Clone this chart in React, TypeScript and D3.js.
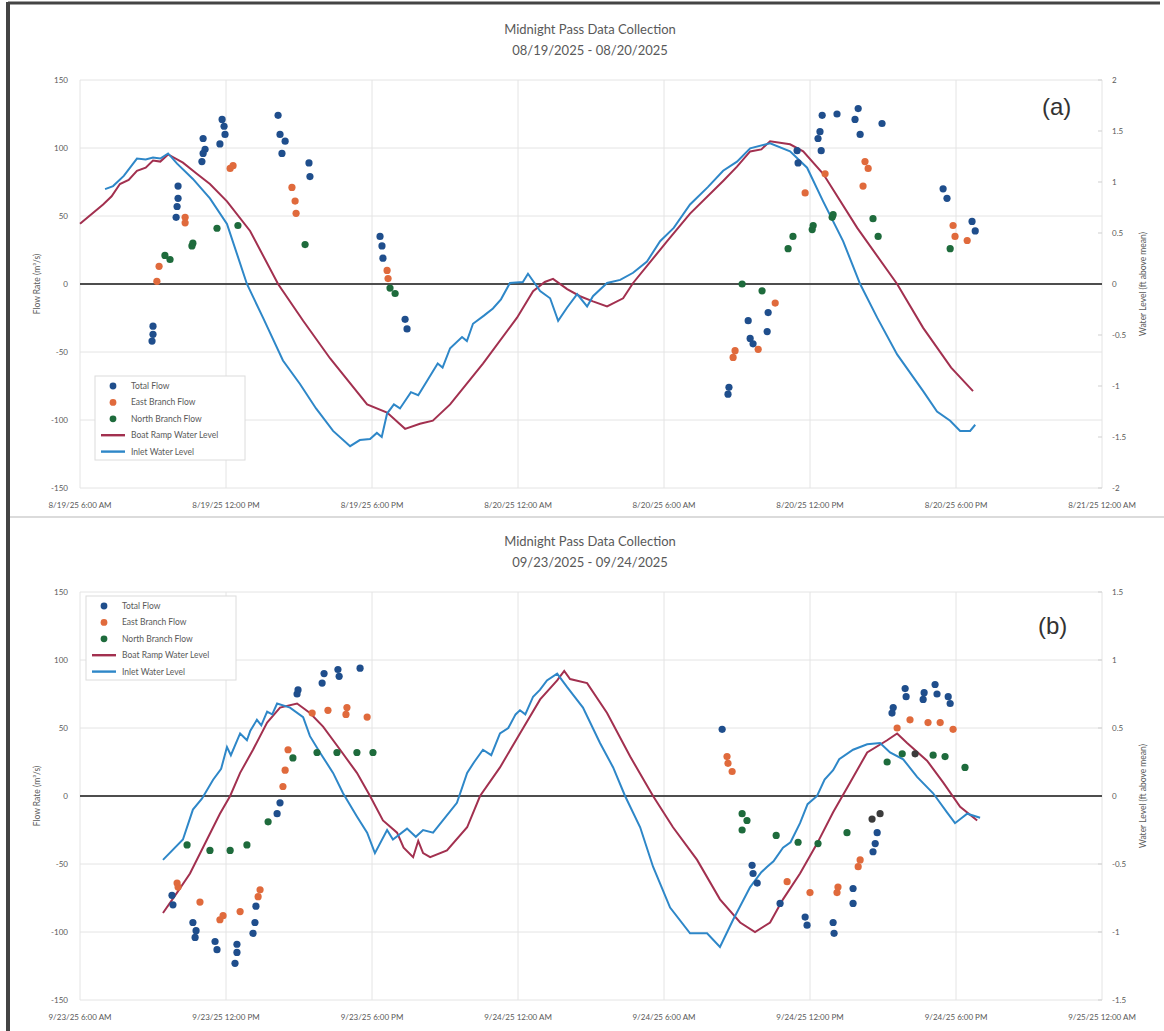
import * as d3 from "d3";

// hours since midnight of the first day of each panel
const tickHours = [6, 12, 18, 24, 30, 36, 42, 48];
const xLabelsA = ["8/19/25 6:00 AM", "8/19/25 12:00 PM", "8/19/25 6:00 PM", "8/20/25 12:00 AM", "8/20/25 6:00 AM", "8/20/25 12:00 PM", "8/20/25 6:00 PM", "8/21/25 12:00 AM"];
const xLabelsB = ["9/23/25 6:00 AM", "9/23/25 12:00 PM", "9/23/25 6:00 PM", "9/24/25 12:00 AM", "9/24/25 6:00 AM", "9/24/25 12:00 PM", "9/24/25 6:00 PM", "9/25/25 12:00 AM"];
const flowTicks = [-150, -100, -50, 0, 50, 100, 150];
const levelTicksA = [-2, -1.5, -1, -0.5, 0, 0.5, 1, 1.5, 2];
const levelTicksB = [-1.5, -1, -0.5, 0, 0.5, 1, 1.5];

// panel (a) — water level in ft, flow in m3/s
const rampA = [[6.0, 0.59], [6.95, 0.78], [7.3, 0.86], [7.64, 0.98], [8.0, 1.02], [8.34, 1.11], [8.7, 1.14], [9.0, 1.21], [9.3, 1.2], [9.62, 1.27], [10.23, 1.19], [10.8, 1.08], [11.34, 0.98], [12.04, 0.81], [12.99, 0.52], [14.14, 0], [15.17, -0.36], [16.28, -0.73], [17.8, -1.18], [18.62, -1.26], [19.36, -1.42], [19.97, -1.37], [20.5, -1.34], [21.21, -1.18], [22.56, -0.78], [23.96, -0.33], [24.62, -0.07], [25.1, 0.02], [25.44, 0.05], [26.02, -0.05], [26.55, -0.12], [27.08, -0.17], [27.66, -0.22], [28.32, -0.14], [28.73, 0.01], [30.13, 0.42], [31.07, 0.69], [32.43, 1.01], [33.0, 1.15], [33.54, 1.3], [34.0, 1.32], [34.36, 1.4], [35.18, 1.37], [35.72, 1.3], [36.54, 1.08], [37.94, 0.55], [39.58, 0], [40.65, -0.43], [41.8, -0.82], [42.7, -1.05]];
const inletA = [[7.03, 0.93], [7.36, 0.96], [7.8, 1.06], [8.34, 1.23], [8.7, 1.22], [9.0, 1.24], [9.3, 1.23], [9.62, 1.28], [9.99, 1.18], [10.64, 1.03], [11.34, 0.84], [12.04, 0.59], [12.86, 0], [13.52, -0.33], [14.34, -0.75], [15.04, -0.98], [15.7, -1.22], [16.4, -1.44], [17.1, -1.59], [17.5, -1.53], [17.92, -1.52], [18.2, -1.46], [18.4, -1.5], [18.62, -1.27], [18.9, -1.18], [19.15, -1.22], [19.6, -1.06], [19.9, -1.09], [20.26, -0.95], [20.7, -0.78], [20.9, -0.82], [21.21, -0.63], [21.7, -0.52], [21.9, -0.56], [22.15, -0.39], [22.6, -0.31], [22.97, -0.24], [23.3, -0.15], [23.67, 0.01], [24.2, 0.02], [24.41, 0.1], [24.91, -0.07], [25.32, -0.14], [25.65, -0.36], [26.02, -0.23], [26.43, -0.1], [26.84, -0.22], [27.08, -0.12], [27.66, 0.01], [28.2, 0.04], [28.73, 0.11], [29.3, 0.22], [29.84, 0.42], [30.4, 0.55], [31.07, 0.78], [31.8, 0.95], [32.43, 1.11], [33.0, 1.2], [33.54, 1.33], [34.36, 1.38], [35.18, 1.3], [35.88, 1.14], [36.54, 0.81], [37.36, 0.42], [38.06, 0], [38.76, -0.33], [39.58, -0.69], [40.65, -1.05], [41.22, -1.25], [41.76, -1.34], [42.17, -1.44], [42.58, -1.44], [42.79, -1.38]];
const totalA = [[9.0, -31], [9.0, -37], [8.96, -42], [10.03, 72], [10.03, 63], [9.99, 57], [9.95, 49], [11.06, 107], [11.14, 99], [11.06, 96], [11.01, 90], [11.84, 121], [11.92, 116], [11.96, 110], [11.75, 103], [14.14, 124], [14.22, 110], [14.43, 105], [14.3, 96], [15.41, 89], [15.45, 79], [18.33, 35], [18.41, 28], [18.45, 19], [19.36, -26], [19.44, -33], [32.63, -81], [32.67, -76], [33.46, -27], [33.54, -40], [33.66, -44], [34.24, -35], [34.28, -21], [35.47, 98], [35.51, 89], [36.33, 107], [36.41, 112], [36.5, 124], [36.46, 98], [37.11, 125], [37.85, 121], [37.98, 129], [38.06, 110], [38.96, 118], [41.47, 70], [41.63, 63], [42.66, 46], [42.79, 39]];
const eastA = [[9.16, 2], [9.25, 13], [10.32, 49], [10.32, 45], [12.17, 85], [12.29, 87], [14.71, 71], [14.84, 61], [14.88, 52], [18.62, 10], [18.66, 4], [32.92, -49], [32.84, -54], [33.87, -48], [34.57, -14], [35.8, 67], [36.62, 81], [38.26, 90], [38.39, 85], [38.18, 72], [41.88, 43], [41.96, 35], [42.46, 32]];
const northA = [[9.49, 21], [9.7, 18], [10.6, 28], [10.64, 30], [11.63, 41], [12.49, 43], [15.25, 29], [18.74, -3], [18.95, -7], [33.21, 0], [34.03, -5], [35.1, 26], [35.3, 35], [36.09, 40], [36.13, 43], [36.91, 49], [36.95, 51], [38.59, 48], [38.8, 35], [41.76, 26]];

// panel (b)
const rampB = [[9.41, -0.86], [9.99, -0.71], [10.52, -0.57], [11.22, -0.32], [11.75, -0.13], [12.17, 0], [12.58, 0.17], [13.11, 0.34], [13.69, 0.54], [14.22, 0.65], [14.92, 0.68], [15.45, 0.61], [15.99, 0.51], [16.69, 0.34], [17.38, 0.17], [17.92, 0], [18.45, -0.18], [19.03, -0.27], [19.3, -0.38], [19.69, -0.45], [19.9, -0.33], [20.1, -0.42], [20.39, -0.45], [21.08, -0.4], [21.91, -0.23], [22.44, 0], [23.26, 0.21], [24.08, 0.46], [24.91, 0.71], [25.61, 0.85], [25.9, 0.92], [26.14, 0.86], [26.84, 0.83], [27.66, 0.61], [28.61, 0.29], [29.55, 0], [30.37, -0.23], [31.36, -0.47], [32.3, -0.76], [33.13, -0.93], [33.74, -1.0], [34.36, -0.93], [34.89, -0.76], [35.59, -0.57], [36.29, -0.35], [36.95, -0.12], [37.65, 0.1], [38.35, 0.32], [39.17, 0.41], [39.58, 0.46], [39.99, 0.39], [40.81, 0.26], [41.47, 0.1], [42.17, -0.08], [42.87, -0.18]];
const inletB = [[9.41, -0.47], [10.23, -0.32], [10.64, -0.1], [11.01, -0.02], [11.47, 0.12], [11.8, 0.2], [12.04, 0.36], [12.2, 0.3], [12.58, 0.46], [12.86, 0.41], [13.0, 0.48], [13.27, 0.56], [13.45, 0.52], [13.69, 0.62], [13.9, 0.6], [14.1, 0.68], [14.63, 0.65], [15.17, 0.58], [15.45, 0.44], [15.86, 0.32], [16.4, 0.17], [16.81, 0.02], [17.38, -0.15], [17.8, -0.27], [18.12, -0.42], [18.62, -0.25], [18.86, -0.32], [19.44, -0.24], [19.8, -0.3], [20.1, -0.25], [20.51, -0.27], [21.49, -0.05], [21.91, 0.17], [22.2, 0.25], [22.56, 0.34], [22.9, 0.3], [23.26, 0.46], [23.6, 0.5], [23.9, 0.6], [24.08, 0.63], [24.3, 0.6], [24.62, 0.73], [24.9, 0.78], [25.19, 0.85], [25.61, 0.9], [26.02, 0.8], [26.67, 0.65], [27.37, 0.39], [27.91, 0.21], [28.4, 0], [29.02, -0.23], [29.55, -0.52], [30.25, -0.82], [31.07, -1.01], [31.77, -1.01], [32.3, -1.11], [32.84, -0.91], [33.54, -0.67], [34.0, -0.56], [34.24, -0.52], [34.5, -0.48], [34.89, -0.38], [35.2, -0.34], [35.59, -0.2], [35.9, -0.06], [36.29, 0], [36.6, 0.12], [36.95, 0.19], [37.2, 0.27], [37.77, 0.34], [38.35, 0.38], [38.88, 0.39], [39.29, 0.32], [39.83, 0.27], [40.4, 0.14], [41.06, 0.02], [41.63, -0.12], [41.96, -0.2], [42.46, -0.13], [42.99, -0.16]];
const totalB = [[9.78, -73], [9.82, -80], [10.64, -93], [10.77, -99], [10.73, -104], [11.55, -107], [11.63, -113], [12.45, -109], [12.45, -115], [12.37, -123], [13.19, -93], [13.23, -81], [13.11, -101], [14.22, -5], [14.1, -13], [14.96, 78], [14.92, 75], [15.95, 83], [16.03, 90], [16.6, 93], [16.65, 88], [17.51, 94], [32.39, 49], [33.62, -51], [33.66, -57], [33.83, -64], [34.77, -79], [35.8, -89], [35.88, -95], [36.95, -93], [36.99, -101], [37.77, -68], [37.77, -79], [38.76, -27], [38.68, -35], [38.59, -41], [39.37, 61], [39.42, 65], [39.91, 79], [39.95, 73], [40.65, 71], [40.69, 76], [41.14, 82], [41.22, 75], [41.68, 73], [41.76, 68]];
const eastB = [[9.99, -64], [10.03, -67], [10.93, -78], [11.75, -91], [11.88, -88], [12.58, -85], [13.4, -69], [13.32, -74], [14.34, 7], [14.43, 19], [14.55, 34], [15.54, 61], [16.19, 63], [16.97, 65], [16.93, 60], [17.8, 58], [32.59, 29], [32.63, 24], [32.8, 18], [35.06, -63], [36.0, -71], [37.11, -71], [37.15, -67], [37.98, -52], [38.06, -47], [39.58, 50], [40.11, 56], [40.85, 54], [41.35, 54], [41.88, 49]];
const northB = [[10.4, -36], [11.34, -40], [12.17, -40], [12.86, -36], [13.73, -19], [14.75, 28], [15.74, 32], [16.56, 32], [17.38, 32], [18.04, 32], [33.21, -13], [33.41, -18], [33.21, -25], [34.61, -29], [35.51, -34], [36.33, -35], [37.52, -27], [39.17, 25], [39.79, 31], [41.06, 30], [41.55, 29], [42.37, 21]];
const overlapB = [[38.55, -17], [38.88, -13], [40.32, 31]];

const legendItems = ["Total Flow", "East Branch Flow", "North Branch Flow", "Boat Ramp Water Level", "Inlet Water Level"];

const C = { total: "#1f4e8c", east: "#e06a3c", north: "#1e6b3c", ramp: "#a2304f", inlet: "#2e87c8", text: "#595959", grid: "#e4e4e4" };
const FONT = "Lato, 'Open Sans', sans-serif";
const X0 = 80, X1 = 1102;

function Panel({ top, bottom, title, sub, tag, tagX, tagY, xLabels, levelTicks, levelMax, ramp, inlet, total, east, north, gray, legX, legY }) {
	const x = d3.scaleLinear().domain([6, 48]).range([X0, X1]);
	const y = d3.scaleLinear().domain([-150, 150]).range([bottom, top]);
	const yR = d3.scaleLinear().domain([-levelMax, levelMax]).range([bottom, top]);
	const line = d3.line().x(d => x(d[0])).y(d => yR(d[1]));
	const dots = (data, color) => data.map((d, i) => <circle key={color + i} cx={x(d[0])} cy={y(d[1])} r={3.6} fill={color} />);
	const midY = (top + bottom) / 2;
	return (
		<g fontFamily={FONT}>
			<text x={590} y={top - 46} textAnchor="middle" fontSize={13} fill={C.text}>{title}</text>
			<text x={590} y={top - 25} textAnchor="middle" fontSize={13} fill={C.text}>{sub}</text>
			{flowTicks.map(t => <line key={"h" + t} x1={X0} x2={X1} y1={y(t)} y2={y(t)} stroke={C.grid} />)}
			{tickHours.map(h => <line key={"v" + h} x1={x(h)} x2={x(h)} y1={top} y2={bottom} stroke={C.grid} />)}
			{flowTicks.map(t => <text key={"l" + t} x={68} y={y(t) + 3} textAnchor="end" fontSize={8} fill={C.text}>{t}</text>)}
			{levelTicks.map(t => <g key={"r" + t}>
				<line x1={X1 - 4} x2={X1} y1={yR(t)} y2={yR(t)} stroke="#cfcfcf" />
				<text x={1112} y={yR(t) + 3} fontSize={8} fill={C.text}>{t}</text>
			</g>)}
			{tickHours.map((h, i) => <text key={"x" + h} x={x(h)} y={bottom + 20} textAnchor="middle" fontSize={8} fill={C.text}>{xLabels[i]}</text>)}
			<text transform={`translate(40,${midY}) rotate(-90)`} textAnchor="middle" fontSize={8.5} fill={C.text}>Flow Rate (m³/s)</text>
			<text transform={`translate(1146,${midY}) rotate(-90)`} textAnchor="middle" fontSize={8.5} fill={C.text}>Water Level (ft above mean)</text>
			<line x1={X0} x2={X1} y1={y(0)} y2={y(0)} stroke="#4d4d4d" strokeWidth={2} />
			<path d={line(ramp)} fill="none" stroke={C.ramp} strokeWidth={2} />
			<path d={line(inlet)} fill="none" stroke={C.inlet} strokeWidth={2} />
			{dots(total, C.total)}
			{dots(east, C.east)}
			{dots(north, C.north)}
			{dots(gray || [], "#3c3c3c")}
			<text x={tagX} y={tagY} fontSize={24} fill="#333" fontFamily="'Liberation Sans', Arial, sans-serif">{tag}</text>
			<g transform={`translate(${legX},${legY})`}>
				<rect x={0} y={0} width={150} height={84} fill="#fff" stroke="#dcdcdc" />
				{legendItems.map((s, i) => <g key={s} transform={`translate(0,${10 + i * 16.4})`}>
					{i < 3
						? <circle cx={18} cy={0} r={3.4} fill={[C.total, C.east, C.north][i]} />
						: <line x1={6} x2={30} y1={0} y2={0} stroke={i === 3 ? C.ramp : C.inlet} strokeWidth={2.4} />}
					<text x={36} y={3} fontSize={8.5} fill={C.text}>{s}</text>
				</g>)}
			</g>
		</g>
	);
}

export default function App() {
	return (
		<svg width={1164} height={1031} style={{ position: "absolute", left: 0, top: 0, background: "#fff" }}>
			<rect width={1164} height={1031} fill="#fff" />
			<Panel top={80} bottom={488} title="Midnight Pass Data Collection" sub="08/19/2025 - 08/20/2025" tag="(a)" tagX={1042} tagY={115}
				xLabels={xLabelsA} levelTicks={levelTicksA} levelMax={2} ramp={rampA} inlet={inletA} total={totalA} east={eastA} north={northA}
				legX={95} legY={376} />
			<Panel top={592} bottom={1000} title="Midnight Pass Data Collection" sub="09/23/2025 - 09/24/2025" tag="(b)" tagX={1038} tagY={634}
				xLabels={xLabelsB} levelTicks={levelTicksB} levelMax={1.5} ramp={rampB} inlet={inletB} total={totalB} east={eastB} north={northB} gray={overlapB}
				legX={86} legY={596} />
			<line x1={8} x2={1164} y1={517} y2={517} stroke="#cfcfcf" strokeWidth={1.5} />
			<line x1={8} x2={1160} y1={3} y2={3} stroke="#444" strokeWidth={3} />
			<line x1={8} x2={8} y1={2} y2={1031} stroke="#444" strokeWidth={4} />
		</svg>
	);
}
